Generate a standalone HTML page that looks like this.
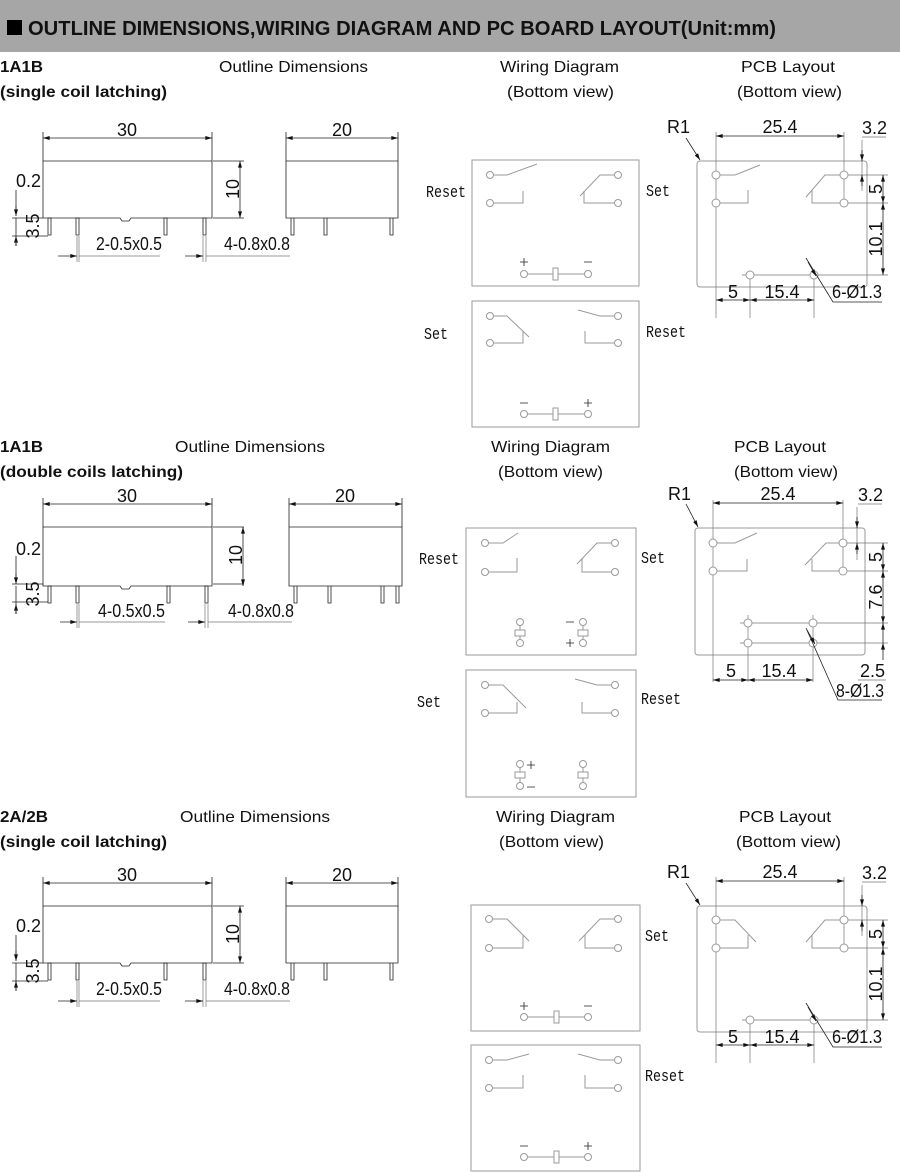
<!DOCTYPE html>
<html><head><meta charset="utf-8"><style>
html,body{margin:0;padding:0;background:#fff;}
svg{display:block;}
.t{font-family:"Liberation Sans",Arial,sans-serif;font-size:16px;fill:#111;}
.b{font-weight:bold;}
.dm{font-family:"Liberation Sans",Arial,sans-serif;font-size:18px;fill:#111;}
.m{font-family:"Liberation Mono","DejaVu Sans Mono",monospace;font-size:17px;fill:#111;}
.k{stroke:#222;stroke-width:.8;fill:none;}
.g{stroke:#9a9a9a;stroke-width:1;fill:none;}
.h{stroke:#9a9a9a;stroke-width:1;fill:#fff;}
.e{stroke:#777;stroke-width:.7;fill:none;}
</style></head><body>
<svg width="900" height="1172" viewBox="0 0 900 1172" xmlns="http://www.w3.org/2000/svg">
<defs>
<marker id="a" viewBox="0 0 10 6" refX="10" refY="3" markerWidth="8" markerHeight="4" orient="auto-start-reverse" markerUnits="userSpaceOnUse"><path d="M0 0L10 3L0 6Z" fill="#111"/></marker>
</defs>
<rect x="0" y="0" width="900" height="52" fill="#a6a6a6"/>
<rect x="7" y="20" width="15" height="15" fill="#000"/>
<text x="28" y="35" class="t b" style="font-size:20px" textLength="748" lengthAdjust="spacingAndGlyphs">OUTLINE DIMENSIONS,WIRING DIAGRAM AND PC BOARD LAYOUT(Unit:mm)</text>

<!-- headings -->
<text x="0" y="72" class="t b" textLength="43" lengthAdjust="spacingAndGlyphs">1A1B</text>
<text x="0" y="97" class="t b" textLength="167" lengthAdjust="spacingAndGlyphs">(single coil latching)</text>
<text x="219" y="72" class="t" textLength="149" lengthAdjust="spacingAndGlyphs">Outline Dimensions</text>
<text x="500" y="72" class="t" textLength="119" lengthAdjust="spacingAndGlyphs">Wiring Diagram</text>
<text x="507" y="97" class="t" textLength="107" lengthAdjust="spacingAndGlyphs">(Bottom view)</text>
<text x="741" y="72" class="t" textLength="94" lengthAdjust="spacingAndGlyphs">PCB Layout</text>
<text x="737" y="97" class="t" textLength="105" lengthAdjust="spacingAndGlyphs">(Bottom view)</text>

<text x="0" y="452" class="t b" textLength="43" lengthAdjust="spacingAndGlyphs">1A1B</text>
<text x="0" y="477" class="t b" textLength="183" lengthAdjust="spacingAndGlyphs">(double coils latching)</text>
<text x="175" y="452" class="t" textLength="150" lengthAdjust="spacingAndGlyphs">Outline Dimensions</text>
<text x="491" y="452" class="t" textLength="119" lengthAdjust="spacingAndGlyphs">Wiring Diagram</text>
<text x="498" y="477" class="t" textLength="105" lengthAdjust="spacingAndGlyphs">(Bottom view)</text>
<text x="734" y="452" class="t" textLength="92" lengthAdjust="spacingAndGlyphs">PCB Layout</text>
<text x="734" y="477" class="t" textLength="104" lengthAdjust="spacingAndGlyphs">(Bottom view)</text>

<text x="0" y="822" class="t b" textLength="48" lengthAdjust="spacingAndGlyphs">2A/2B</text>
<text x="0" y="847" class="t b" textLength="167" lengthAdjust="spacingAndGlyphs">(single coil latching)</text>
<text x="180" y="822" class="t" textLength="150" lengthAdjust="spacingAndGlyphs">Outline Dimensions</text>
<text x="496" y="822" class="t" textLength="119" lengthAdjust="spacingAndGlyphs">Wiring Diagram</text>
<text x="499" y="847" class="t" textLength="105" lengthAdjust="spacingAndGlyphs">(Bottom view)</text>
<text x="739" y="822" class="t" textLength="92" lengthAdjust="spacingAndGlyphs">PCB Layout</text>
<text x="736" y="847" class="t" textLength="105" lengthAdjust="spacingAndGlyphs">(Bottom view)</text>

<!-- OUTLINE sections -->
<g id="o1">
<path class="k" d="M43 132V161M212 132V161M213 161H244M213 218H244M12 218H43M12 236H48M16 190V212"/>
<line class="k" x1="43" y1="138" x2="212" y2="138" marker-start="url(#a)" marker-end="url(#a)"/>
<text x="127" y="136" class="dm" text-anchor="middle">30</text>
<path class="k" d="M43 161H212V218H131L129 221H122L120 218H43Z"/>
<path class="k" d="M48 218h3v17h-3zM76 218h3v17h-3zM164 218h3v17h-3zM203 218h3v17h-3z"/>
<line class="k" x1="240" y1="189" x2="240" y2="161" marker-end="url(#a)"/>
<line class="k" x1="240" y1="189" x2="240" y2="218" marker-end="url(#a)"/>
<text class="dm" text-anchor="middle" transform="translate(239,189) rotate(-90)">10</text>
<text x="16" y="187" class="dm">0.2</text>
<line class="k" x1="16" y1="206" x2="16" y2="216" marker-end="url(#a)"/>
<line class="k" x1="16" y1="246" x2="16" y2="236" marker-end="url(#a)"/>
<path class="k" d="M16 218V246"/>
<text class="dm" text-anchor="middle" transform="translate(39,226) rotate(-90)">3.5</text>
<path class="e" d="M77 236V262M79 236V262M203 236V262M206 236V262M79 256H160M206 256H290"/>
<line class="k" x1="58" y1="256" x2="77" y2="256" marker-end="url(#a)"/>
<line class="k" x1="185" y1="256" x2="203" y2="256" marker-end="url(#a)"/>
<text x="96" y="250" class="dm" textLength="66" lengthAdjust="spacingAndGlyphs">2-0.5x0.5</text>
<text x="224" y="250" class="dm" textLength="66" lengthAdjust="spacingAndGlyphs">4-0.8x0.8</text>
</g>
<g id="s1">
<path class="k" d="M286 132V161M398 132V161M286 161H398V218H286ZM291 218h3v17h-3zM324 218h3v17h-3zM390 218h3v17h-3z"/>
<line class="k" x1="286" y1="138" x2="398" y2="138" marker-start="url(#a)" marker-end="url(#a)"/>
<text x="342" y="136" class="dm" text-anchor="middle">20</text>
</g>

<g transform="translate(0,366)">
<path class="k" d="M43 132V161M212 132V161M213 161H244M213 218H244M12 218H43M12 236H48M16 190V212"/>
<line class="k" x1="43" y1="138" x2="212" y2="138" marker-start="url(#a)" marker-end="url(#a)"/>
<text x="127" y="136" class="dm" text-anchor="middle">30</text>
<path class="k" d="M43 161H212V220H131L129 223H122L120 220H43Z"/>
<path class="k" d="M48 220h3v17h-3zM76 220h3v17h-3zM167 220h3v17h-3zM205 220h3v17h-3z"/>
<line class="k" x1="243" y1="189" x2="243" y2="161" marker-end="url(#a)"/>
<line class="k" x1="243" y1="189" x2="243" y2="220" marker-end="url(#a)"/>
<text class="dm" text-anchor="middle" transform="translate(242,189) rotate(-90)">10</text>
<text x="16" y="189" class="dm">0.2</text>
<line class="k" x1="16" y1="208" x2="16" y2="218" marker-end="url(#a)"/>
<line class="k" x1="16" y1="248" x2="16" y2="238" marker-end="url(#a)"/>
<path class="k" d="M16 220V248"/>
<text class="dm" text-anchor="middle" transform="translate(39,228) rotate(-90)">3.5</text>
<path class="e" d="M77 238V262M79 238V262M205 238V262M208 238V262M79 256H165M208 256H292"/>
<line class="k" x1="60" y1="256" x2="77" y2="256" marker-end="url(#a)"/>
<line class="k" x1="188" y1="256" x2="205" y2="256" marker-end="url(#a)"/>
<text x="98" y="251" class="dm" textLength="67" lengthAdjust="spacingAndGlyphs">4-0.5x0.5</text>
<text x="228" y="251" class="dm" textLength="66" lengthAdjust="spacingAndGlyphs">4-0.8x0.8</text>
<path class="k" d="M289 132V161M402 132V161M289 161H402V220H289ZM294 220h3v17h-3zM328 220h3v17h-3zM381 220h3v17h-3zM396 220h3v17h-3z"/>
<line class="k" x1="289" y1="138" x2="402" y2="138" marker-start="url(#a)" marker-end="url(#a)"/>
<text x="345" y="136" class="dm" text-anchor="middle">20</text>
</g>

<g transform="translate(0,745)">
<path class="k" d="M43 132V161M212 132V161M213 161H244M213 218H244M12 218H43M12 236H48M16 190V212"/>
<line class="k" x1="43" y1="138" x2="212" y2="138" marker-start="url(#a)" marker-end="url(#a)"/>
<text x="127" y="136" class="dm" text-anchor="middle">30</text>
<path class="k" d="M43 161H212V218H131L129 221H122L120 218H43Z"/>
<path class="k" d="M48 218h3v17h-3zM76 218h3v17h-3zM164 218h3v17h-3zM203 218h3v17h-3z"/>
<line class="k" x1="240" y1="189" x2="240" y2="161" marker-end="url(#a)"/>
<line class="k" x1="240" y1="189" x2="240" y2="218" marker-end="url(#a)"/>
<text class="dm" text-anchor="middle" transform="translate(239,189) rotate(-90)">10</text>
<text x="16" y="187" class="dm">0.2</text>
<line class="k" x1="16" y1="206" x2="16" y2="216" marker-end="url(#a)"/>
<line class="k" x1="16" y1="246" x2="16" y2="236" marker-end="url(#a)"/>
<path class="k" d="M16 218V246"/>
<text class="dm" text-anchor="middle" transform="translate(39,226) rotate(-90)">3.5</text>
<path class="e" d="M77 236V262M79 236V262M203 236V262M206 236V262M79 256H160M206 256H290"/>
<line class="k" x1="58" y1="256" x2="77" y2="256" marker-end="url(#a)"/>
<line class="k" x1="185" y1="256" x2="203" y2="256" marker-end="url(#a)"/>
<text x="96" y="250" class="dm" textLength="66" lengthAdjust="spacingAndGlyphs">2-0.5x0.5</text>
<text x="224" y="250" class="dm" textLength="66" lengthAdjust="spacingAndGlyphs">4-0.8x0.8</text>
<path class="k" d="M286 132V161M398 132V161M286 161H398V218H286ZM291 218h3v17h-3zM324 218h3v17h-3zM390 218h3v17h-3z"/>
<line class="k" x1="286" y1="138" x2="398" y2="138" marker-start="url(#a)" marker-end="url(#a)"/>
<text x="342" y="136" class="dm" text-anchor="middle">20</text>
</g>

<!-- WIRING section 1 -->
<rect class="g" x="472" y="160" width="167" height="126"/>
<path class="g" d="M494 175H507L537 164M494 203H523V191M614 175H600L580 196M614 203H584V191M527 274H553M558 274H584"/>
<rect class="h" x="553" y="268" width="5" height="12"/>
<circle class="h" cx="490" cy="175" r="3.5"/><circle class="h" cx="490" cy="203" r="3.5"/>
<circle class="h" cx="618" cy="175" r="3.5"/><circle class="h" cx="618" cy="203" r="3.5"/>
<circle class="h" cx="524" cy="274" r="3.5"/><circle class="h" cx="588" cy="274" r="3.5"/>
<path class="k" d="M520 262h8M524 258v8M584 262h8"/>
<text x="426" y="197" class="m" textLength="40" lengthAdjust="spacingAndGlyphs">Reset</text>
<text x="646" y="196" class="m" textLength="24" lengthAdjust="spacingAndGlyphs">Set</text>

<rect class="g" x="472" y="301" width="167" height="126"/>
<path class="g" d="M494 316H507L529 337M494 343H523V331M614 316H600L578 310M614 343H585V331M527 414H553M558 414H584"/>
<rect class="h" x="553" y="408" width="5" height="12"/>
<circle class="h" cx="490" cy="316" r="3.5"/><circle class="h" cx="490" cy="343" r="3.5"/>
<circle class="h" cx="618" cy="316" r="3.5"/><circle class="h" cx="618" cy="343" r="3.5"/>
<circle class="h" cx="524" cy="414" r="3.5"/><circle class="h" cx="588" cy="414" r="3.5"/>
<path class="k" d="M520 403h8M584 403h8M588 399v8"/>
<text x="424" y="339" class="m" textLength="24" lengthAdjust="spacingAndGlyphs">Set</text>
<text x="646" y="337" class="m" textLength="40" lengthAdjust="spacingAndGlyphs">Reset</text>

<!-- WIRING section 2 -->
<rect class="g" x="466" y="528" width="170" height="127"/>
<path class="g" d="M488 543H503L518 533M488 572H517V558M612 543H597L577 564M612 572H582V558M520 625V641M583 625V641"/>
<rect class="h" x="515" y="630" width="10" height="6"/><rect class="h" x="578" y="630" width="10" height="6"/>
<circle class="h" cx="485" cy="543" r="3.5"/><circle class="h" cx="485" cy="572" r="3.5"/>
<circle class="h" cx="615" cy="543" r="3.5"/><circle class="h" cx="615" cy="572" r="3.5"/>
<circle class="h" cx="520" cy="622" r="3.5"/><circle class="h" cx="520" cy="643" r="3.5"/>
<circle class="h" cx="583" cy="622" r="3.5"/><circle class="h" cx="583" cy="643" r="3.5"/>
<path class="k" d="M566 622h8M566 643h8M570 639v8"/>
<text x="419" y="564" class="m" textLength="40" lengthAdjust="spacingAndGlyphs">Reset</text>
<text x="641" y="563" class="m" textLength="24" lengthAdjust="spacingAndGlyphs">Set</text>

<rect class="g" x="466" y="670" width="170" height="127"/>
<path class="g" d="M488 685H503L526 708M488 713H517V702M612 685H597L575 679M612 713H582V702M520 767V783M583 767V783"/>
<rect class="h" x="515" y="772" width="10" height="6"/><rect class="h" x="578" y="772" width="10" height="6"/>
<circle class="h" cx="485" cy="685" r="3.5"/><circle class="h" cx="485" cy="713" r="3.5"/>
<circle class="h" cx="615" cy="685" r="3.5"/><circle class="h" cx="615" cy="713" r="3.5"/>
<circle class="h" cx="520" cy="764" r="3.5"/><circle class="h" cx="520" cy="786" r="3.5"/>
<circle class="h" cx="583" cy="764" r="3.5"/><circle class="h" cx="583" cy="786" r="3.5"/>
<path class="k" d="M527 765h8M531 761v8M527 787h8"/>
<text x="417" y="707" class="m" textLength="24" lengthAdjust="spacingAndGlyphs">Set</text>
<text x="641" y="704" class="m" textLength="40" lengthAdjust="spacingAndGlyphs">Reset</text>

<!-- WIRING section 3 -->
<rect class="g" x="471" y="905" width="169" height="126"/>
<path class="g" d="M493 919H507L529 941M493 948H523V935M614 919H600L579 941M614 948H585V935M527 1017H554M559 1017H584"/>
<rect class="h" x="554" y="1011" width="5" height="12"/>
<circle class="h" cx="489" cy="919" r="3.5"/><circle class="h" cx="489" cy="948" r="3.5"/>
<circle class="h" cx="618" cy="919" r="3.5"/><circle class="h" cx="618" cy="948" r="3.5"/>
<circle class="h" cx="524" cy="1017" r="3.5"/><circle class="h" cx="588" cy="1017" r="3.5"/>
<path class="k" d="M520 1006h8M524 1002v8M584 1006h8"/>
<text x="645" y="941" class="m" textLength="24" lengthAdjust="spacingAndGlyphs">Set</text>

<rect class="g" x="471" y="1045" width="169" height="126"/>
<path class="g" d="M493 1060H507L529 1054M493 1088H523V1075M614 1060H600L578 1054M614 1088H585V1075M527 1157H554M559 1157H584"/>
<rect class="h" x="554" y="1151" width="5" height="12"/>
<circle class="h" cx="489" cy="1060" r="3.5"/><circle class="h" cx="489" cy="1088" r="3.5"/>
<circle class="h" cx="618" cy="1060" r="3.5"/><circle class="h" cx="618" cy="1088" r="3.5"/>
<circle class="h" cx="524" cy="1157" r="3.5"/><circle class="h" cx="588" cy="1157" r="3.5"/>
<path class="k" d="M520 1146h8M584 1146h8M588 1142v8"/>
<text x="645" y="1081" class="m" textLength="40" lengthAdjust="spacingAndGlyphs">Reset</text>

<!-- PCB section 1 -->
<rect class="g" x="697" y="161" width="170" height="126" rx="3"/>
<path class="e" d="M716 132V318M844 132V203M750 275V318M814 275V318M844 175H888M844 203H888M742 275H888M862 137H886M862 140V191"/>
<path class="g" d="M720 175H735L760 165M720 203H748V190M840 175H825L806 197M840 203H812V190"/>
<circle class="h" cx="716" cy="175" r="4"/><circle class="h" cx="716" cy="203" r="4"/>
<circle class="h" cx="844" cy="175" r="4"/><circle class="h" cx="844" cy="203" r="4"/>
<circle class="h" cx="750" cy="275" r="4"/><circle class="h" cx="814" cy="275" r="4"/>
<line class="k" x1="716" y1="136" x2="844" y2="136" marker-start="url(#a)" marker-end="url(#a)"/>
<text x="780" y="133" class="dm" text-anchor="middle">25.4</text>
<text x="862" y="134" class="dm">3.2</text>
<line class="k" x1="862" y1="150" x2="862" y2="161" marker-end="url(#a)"/>
<line class="k" x1="862" y1="186" x2="862" y2="175" marker-end="url(#a)"/>
<line class="k" x1="883" y1="175" x2="883" y2="203" marker-start="url(#a)" marker-end="url(#a)"/>
<line class="k" x1="883" y1="203" x2="883" y2="275" marker-start="url(#a)" marker-end="url(#a)"/>
<text class="dm" text-anchor="middle" transform="translate(882,189) rotate(-90)">5</text>
<text class="dm" text-anchor="middle" transform="translate(882,239) rotate(-90)">10.1</text>
<line class="k" x1="716" y1="300" x2="750" y2="300" marker-start="url(#a)" marker-end="url(#a)"/>
<line class="k" x1="750" y1="300" x2="814" y2="300" marker-start="url(#a)" marker-end="url(#a)"/>
<text x="733" y="298" class="dm" text-anchor="middle">5</text>
<text x="782" y="298" class="dm" text-anchor="middle">15.4</text>
<path class="k" d="M806 258L833 302H882"/>
<line class="k" x1="808" y1="262" x2="816" y2="276" marker-end="url(#a)"/>
<text x="832" y="298" class="dm" textLength="50" lengthAdjust="spacingAndGlyphs">6-Ø1.3</text>
<text x="667" y="133" class="dm">R1</text>
<line class="k" x1="686" y1="138" x2="700" y2="160" marker-end="url(#a)"/>

<!-- PCB section 2 -->
<rect class="g" x="695" y="528" width="170" height="127" rx="3"/>
<path class="e" d="M713 500V682M843 500V571M748 615V682M813 615V682M843 543H888M843 571H888M740 623H888M740 643H888M858 504H882M857 507V560"/>
<path class="g" d="M717 543H735L757 533M717 571H747V559M839 543H826L805 565M839 571H812V559"/>
<circle class="h" cx="713" cy="543" r="4"/><circle class="h" cx="713" cy="571" r="4"/>
<circle class="h" cx="843" cy="543" r="4"/><circle class="h" cx="843" cy="571" r="4"/>
<circle class="h" cx="748" cy="623" r="4"/><circle class="h" cx="813" cy="623" r="4"/>
<circle class="h" cx="748" cy="643" r="4"/><circle class="h" cx="813" cy="643" r="4"/>
<line class="k" x1="713" y1="503" x2="843" y2="503" marker-start="url(#a)" marker-end="url(#a)"/>
<text x="778" y="500" class="dm" text-anchor="middle">25.4</text>
<text x="858" y="501" class="dm">3.2</text>
<line class="k" x1="857" y1="517" x2="857" y2="528" marker-end="url(#a)"/>
<line class="k" x1="857" y1="554" x2="857" y2="543" marker-end="url(#a)"/>
<line class="k" x1="883" y1="543" x2="883" y2="571" marker-start="url(#a)" marker-end="url(#a)"/>
<line class="k" x1="883" y1="571" x2="883" y2="623" marker-start="url(#a)" marker-end="url(#a)"/>
<line class="k" x1="883" y1="623" x2="883" y2="643" marker-start="url(#a)"/>
<line class="k" x1="883" y1="660" x2="883" y2="643" marker-end="url(#a)"/>
<text class="dm" text-anchor="middle" transform="translate(882,557) rotate(-90)">5</text>
<text class="dm" text-anchor="middle" transform="translate(882,597) rotate(-90)">7.6</text>
<text x="860" y="677" class="dm">2.5</text>
<path class="e" d="M858 680H886"/>
<line class="k" x1="713" y1="680" x2="748" y2="680" marker-start="url(#a)" marker-end="url(#a)"/>
<line class="k" x1="748" y1="680" x2="813" y2="680" marker-start="url(#a)" marker-end="url(#a)"/>
<text x="731" y="677" class="dm" text-anchor="middle">5</text>
<text x="779" y="677" class="dm" text-anchor="middle">15.4</text>
<path class="k" d="M806 628L838 700H882"/>
<line class="k" x1="807" y1="630" x2="815" y2="644" marker-end="url(#a)"/>
<text x="836" y="697" class="dm" textLength="48" lengthAdjust="spacingAndGlyphs">8-Ø1.3</text>
<text x="668" y="500" class="dm">R1</text>
<line class="k" x1="686" y1="504" x2="698" y2="527" marker-end="url(#a)"/>

<!-- PCB section 3 -->
<g transform="translate(0,745)">
<rect class="g" x="697" y="161" width="170" height="126" rx="3"/>
<path class="e" d="M716 132V318M844 132V203M750 275V318M814 275V318M844 175H888M844 203H888M742 275H888M862 137H886M862 140V191"/>
<path class="g" d="M720 175H735L756 197M720 203H748V190M840 175H825L806 197M840 203H812V190"/>
<circle class="h" cx="716" cy="175" r="4"/><circle class="h" cx="716" cy="203" r="4"/>
<circle class="h" cx="844" cy="175" r="4"/><circle class="h" cx="844" cy="203" r="4"/>
<circle class="h" cx="750" cy="275" r="4"/><circle class="h" cx="814" cy="275" r="4"/>
<line class="k" x1="716" y1="136" x2="844" y2="136" marker-start="url(#a)" marker-end="url(#a)"/>
<text x="780" y="133" class="dm" text-anchor="middle">25.4</text>
<text x="862" y="134" class="dm">3.2</text>
<line class="k" x1="862" y1="150" x2="862" y2="161" marker-end="url(#a)"/>
<line class="k" x1="862" y1="186" x2="862" y2="175" marker-end="url(#a)"/>
<line class="k" x1="883" y1="175" x2="883" y2="203" marker-start="url(#a)" marker-end="url(#a)"/>
<line class="k" x1="883" y1="203" x2="883" y2="275" marker-start="url(#a)" marker-end="url(#a)"/>
<text class="dm" text-anchor="middle" transform="translate(882,189) rotate(-90)">5</text>
<text class="dm" text-anchor="middle" transform="translate(882,239) rotate(-90)">10.1</text>
<line class="k" x1="716" y1="300" x2="750" y2="300" marker-start="url(#a)" marker-end="url(#a)"/>
<line class="k" x1="750" y1="300" x2="814" y2="300" marker-start="url(#a)" marker-end="url(#a)"/>
<text x="733" y="298" class="dm" text-anchor="middle">5</text>
<text x="782" y="298" class="dm" text-anchor="middle">15.4</text>
<path class="k" d="M806 258L833 302H882"/>
<line class="k" x1="808" y1="262" x2="816" y2="276" marker-end="url(#a)"/>
<text x="832" y="298" class="dm" textLength="50" lengthAdjust="spacingAndGlyphs">6-Ø1.3</text>
<text x="667" y="133" class="dm">R1</text>
<line class="k" x1="686" y1="138" x2="700" y2="160" marker-end="url(#a)"/>
</g>
</svg>
</body></html>
